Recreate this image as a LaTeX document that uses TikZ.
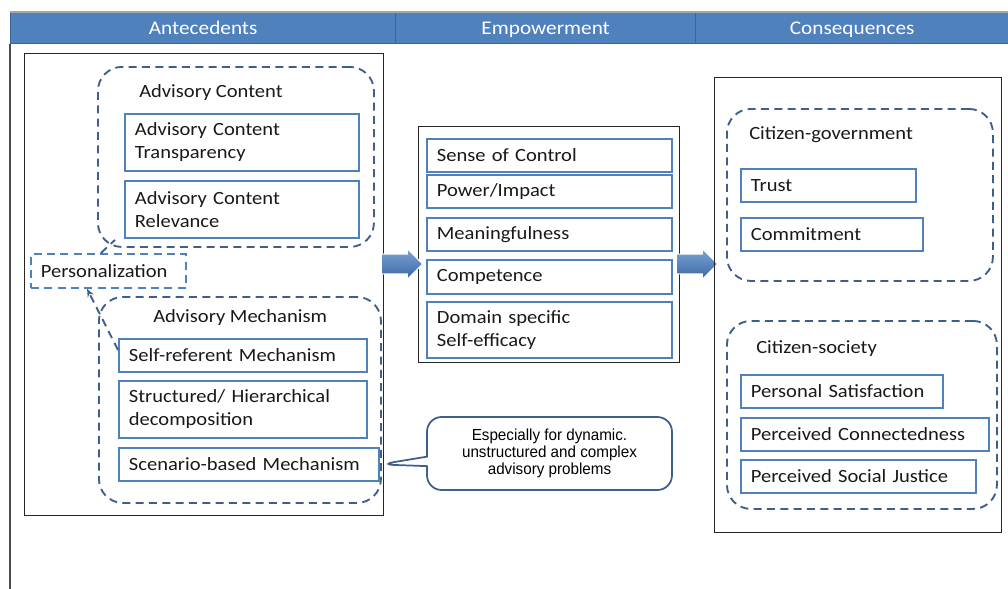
\documentclass[tikz,border=0pt]{standalone}
\usepackage{fontspec}
\setmainfont{Carlito}[FakeStretch=1.1]
\newfontfamily\notefont{Liberation Sans}[FakeStretch=0.95]
\usetikzlibrary{arrows.meta,shapes.arrows,shapes.callouts,positioning}

\definecolor{headblue}{HTML}{4F81BD}
\definecolor{headline}{HTML}{3A659A}
\definecolor{boxblue}{HTML}{4F81BD}
\definecolor{dashblue}{HTML}{3C5F8C}
\definecolor{arrtop}{HTML}{7BA3D6}
\definecolor{arrbot}{HTML}{3A67A3}

\newcommand{\itemfont}{\fontsize{14}{17.25}\selectfont}
\newcommand{\headfont}{\fontsize{14.5}{16}\selectfont}

\tikzset{
  item/.style={draw=boxblue, line width=1.4pt, fill=white, anchor=north west,
    inner xsep=7.5pt, inner ysep=0pt, align=left, font=\itemfont, text=black!90},
  group/.style={draw=dashblue, line width=1.4pt, dash pattern=on 6pt off 4pt,
    rounded corners=18pt, anchor=north west, inner sep=0pt},
  outerbox/.style={draw=black!85, line width=0.8pt, anchor=north west, inner sep=0pt},
  headcell/.style={fill=headblue, draw=headline, line width=1pt, anchor=north west,
    inner sep=0pt, text=white, font=\headfont, minimum height=23.25pt,
    text height=13pt, text depth=3pt},
  grouptitle/.style={anchor=west, inner sep=0pt, font=\itemfont, text=black!90},
  dashlink/.style={draw=dashblue, line width=1.4pt, dash pattern=on 6pt off 4pt},
  blockarrow/.style={single arrow, single arrow head extend=4pt, inner xsep=0pt,
    inner ysep=7pt, minimum height=31pt, top color=arrtop, bottom color=arrbot,
    draw=white, line width=0.8pt},
  note/.style={rectangle callout, rounded corners=11pt, draw=dashblue, line width=1.3pt,
    fill=white, align=center, font=\notefont\fontsize{12}{12.5}\selectfont,
    inner sep=0pt, minimum width=183.75pt, minimum height=54.75pt}
}

\begin{document}
\begin{tikzpicture}[x=0.75pt,y=-0.75pt]
  \useasboundingbox (0,0) rectangle (1008,589);

  % column heads
  \node[headcell, minimum width=288.75pt] (hante) at (10,12) {Antecedents};
  \node[headcell, minimum width=225pt] (hemp) at (395,12) {Empowerment};
  \node[headcell, minimum width=234.75pt] (hcons) at (695,12) {Consequences};
  \draw[black!35, line width=1.2pt] (hante.north west) -- (hcons.north east);
  \draw[black!70, line width=1.5pt] (hante.south west) -- (hante.south west |- 0,589);

  % antecedents
  \node[outerbox, minimum width=269.25pt, minimum height=346.5pt] (antebox) at (24,53) {};
  \node[group, minimum width=207pt, minimum height=135pt] (acgroup) at (97,66) {};
  \node[grouptitle] (actitle) at (139,93) {Advisory Content};
  \node[item, text width=160.5pt, minimum height=42.75pt] (actrans) at (124,113)
    {Advisory Content\\Transparency};
  \node[item, text width=160.5pt, minimum height=42.75pt] (acrel) at (124,180)
    {Advisory Content\\Relevance};

  \node[item, draw=boxblue, dash pattern=on 6pt off 4pt, text width=101.25pt,
    minimum height=25.5pt] (pers) at (30,253) {Personalization};

  \node[group, minimum width=211.5pt, minimum height=154.5pt] (mechgroup) at (98,296) {};
  \node[grouptitle] (mechtitle) at (153,318) {Advisory Mechanism};
  \node[item, text width=171pt, minimum height=24.75pt] (selfref) at (118,338)
    {Self-referent Mechanism};
  \node[item, text width=171pt, minimum height=42.75pt] (struct) at (118,380)
    {Structured/ Hierarchical\\decomposition};
  \node[item, text width=180pt, minimum height=24.75pt] (scen) at (118,447)
    {Scenario-based Mechanism};

  \draw[dashlink] ([xshift=-5.6pt]pers.north) -- ([xshift=13.5pt,yshift=6pt]acgroup.south west);
  \draw[dashlink, -{Stealth[length=6pt,width=5pt]}]
    ([yshift=-9pt]selfref.north west) -- ([xshift=-16pt]pers.south);

  \node[note, callout absolute pointer={(scen.east)}] (hint) at (549.5,453.5)
    {Especially for dynamic.\\unstructured and complex\\advisory problems};

  % empowerment
  \node[outerbox, minimum width=195.75pt, minimum height=177pt] (empbox) at (418,126) {};
  \node[item, text width=168.75pt, minimum height=24.75pt] (control) at (426,138) {Sense of Control};
  \node[item, text width=168.75pt, minimum height=24.75pt] (power) at (426,174) {Power/Impact};
  \node[item, text width=168.75pt, minimum height=24.75pt] (meaning) at (426,217) {Meaningfulness};
  \node[item, text width=168.75pt, minimum height=25.5pt] (compet) at (426,259) {Competence};
  \node[item, text width=168.75pt, minimum height=42pt] (domain) at (426,301)
    {Domain specific\\Self-efficacy};

  \node[blockarrow] (arrin) at (397,264) {};
  \node[blockarrow] (arrout) at (692,264) {};

  % consequences
  \node[outerbox, minimum width=215.25pt, minimum height=341.25pt] (consbox) at (714,77) {};
  \node[group, minimum width=199.5pt, minimum height=129pt] (govgroup) at (726,108) {};
  \node[grouptitle] (govtitle) at (749,135) {Citizen-government};
  \node[item, text width=116.25pt, minimum height=24.75pt] (trust) at (740,168) {Trust};
  \node[item, text width=121.5pt, minimum height=24.75pt] (commit) at (740,217) {Commitment};

  \node[group, minimum width=202.5pt, minimum height=141pt] (socgroup) at (726,320) {};
  \node[grouptitle] (soctitle) at (756,349) {Citizen-society};
  \node[item, text width=136.5pt, minimum height=24.75pt] (satis) at (740,374) {Personal Satisfaction};
  \node[item, text width=171pt, minimum height=24.75pt] (connect) at (740,417) {Perceived Connectedness};
  \node[item, text width=161.25pt, minimum height=24.75pt] (justice) at (740,459) {Perceived Social Justice};
\end{tikzpicture}
\end{document}
